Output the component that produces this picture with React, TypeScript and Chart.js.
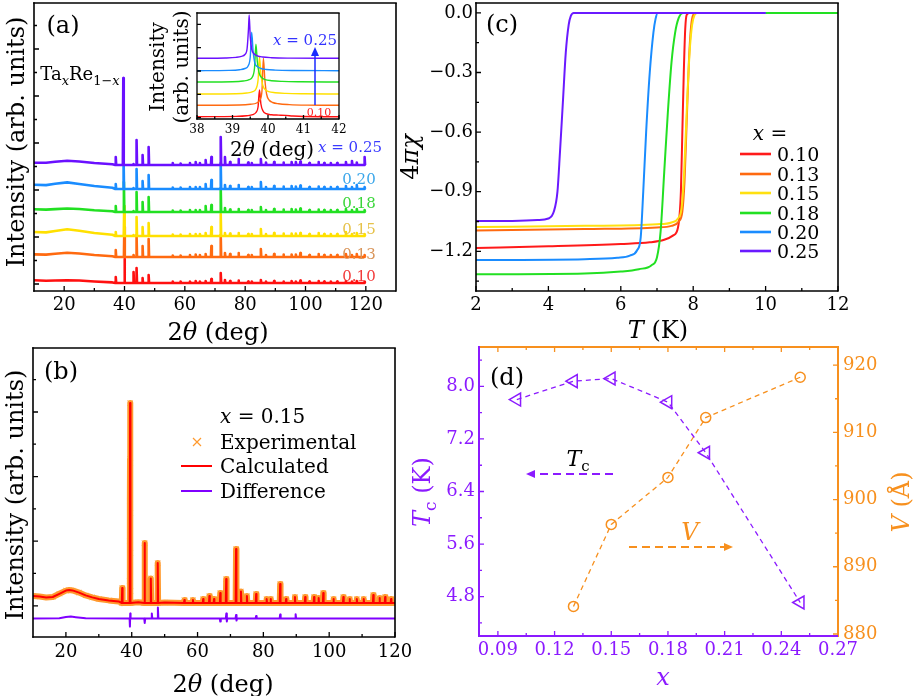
import React, { useEffect, useRef } from "react";
import { Chart, registerables } from "chart.js";

Chart.register(...registerables);

const FONT = "'DejaVu Serif', serif";

// ---------------- Panel (a): stacked XRD patterns ----------------
const compLabels = ["0.10", "0.13", "0.15", "0.18", "0.20", "0.25"];
const traceColors = ["#ff1010", "#ff6a10", "#ffe000", "#22e022", "#1a8cff", "#6a10ff"];
const labelColorsA = ["#f23a3a", "#d9955a", "#e6c24a", "#3ad63a", "#3aa6ea", "#3b3bff"];
const stackOffsets = [8, 34, 55, 79, 102, 126];
const humpAngles = [10, 14, 17, 21, 25, 30, 36, 45, 120];
const hump010 = [2.7, 2.3, 2.5, 2.8, 2.5, 1.5, 0.6, 0, 0];
const hump013 = [2.6, 2.4, 3.2, 4.3, 3.5, 2.0, 0.8, 0, 0];
const hump015 = [4.0, 3.6, 5.0, 6.7, 5.2, 3.0, 1.2, 0, 0];
const hump018 = [2.7, 2.4, 2.9, 3.5, 3.0, 1.8, 0.8, 0, 0];
const hump020 = [4.3, 3.9, 5.2, 6.6, 5.0, 3.0, 1.2, 0, 0];
const hump025 = [2.3, 2.2, 3.2, 4.3, 3.5, 2.0, 0.8, 0, 0];
const mainPeakAngles = [40.0, 39.95, 39.9, 39.8, 39.7, 39.6];
const mainPeakHeights = [24, 30, 30, 30, 30, 87];
const peakAnglesA = [37.1, 43.0, 44.0, 46.0, 48.0, 56.0, 58.6, 61.7, 63.6, 65.0, 66.9, 68.8, 71.9, 73.3, 75.0, 77.8, 81.0, 82.2, 85.2, 86.9, 89.6, 92.7, 95.4, 96.8, 98.3, 101.3, 104.3, 106.2, 108.4, 110.5, 113.4, 115.4, 117.0, 119.6];
const peaks010 = [6, 11, 15, 5, 8, 1.5, 1.5, 1.5, 2, 1.5, 2, 4, 10, 3, 2, 2.5, 1.5, 1.5, 3, 1.5, 2, 1.5, 2, 1.5, 2.5, 1.5, 2, 1.5, 1.5, 1.5, 2, 1.5, 2, 1.5];
const peaks013 = [7, 2, 22, 11, 18, 1.5, 1.5, 2, 2.5, 2, 3, 11, 22, 4, 3, 4, 2, 2, 8, 2, 3, 2.5, 2.5, 2.5, 4, 2, 3, 2, 2, 2, 3, 2, 3, 2];
const peaks015 = [4, 1, 19, 9, 13, 1.5, 1.5, 2, 2, 2, 3, 9, 22, 3, 2.5, 3, 2, 2, 7, 2, 3, 2.5, 2.5, 2.5, 3, 2, 3, 2, 2, 2, 4, 2, 3, 2];
const peaks018 = [6, 1, 20, 10, 15, 1.5, 1.5, 2, 2, 2, 6, 7, 24, 4, 2.5, 3, 2, 2, 5, 2, 3, 2.5, 3, 2.5, 3.5, 2, 2.5, 2, 2, 2, 3, 2, 3, 2];
const peaks020 = [5, 1, 20, 8, 14, 1.5, 1.5, 2, 2, 2, 5, 9, 26, 4, 3, 4, 2, 2, 7, 2, 3, 2.5, 3, 2.5, 3.5, 2, 2.5, 2, 2, 2, 3, 2, 4, 2];
const peaks025 = [8, 1, 25, 10, 18, 2, 1.5, 2, 3, 2, 5, 8, 28, 8, 3, 6, 2.5, 2, 6, 2.5, 3, 2.5, 3, 3, 3.5, 2, 3, 2, 2, 2, 3, 4, 2.5, 8];
const xTicksA = [20, 40, 60, 80, 100, 120];
const xMinorA = [30, 50, 70, 90, 110];
const yMajorA = [7, 54, 101, 148, 195, 242];
const yMinorA = [30.5, 77.5, 124.5, 171.5, 218.5, 265.5];

// ---------------- Inset of (a): main peak ----------------
const insPurpleX = [38, 38.8, 39.1, 39.25, 39.35, 39.41, 39.45, 39.47, 39.5, 39.54, 39.6, 39.7, 39.85, 40.1, 40.6, 42];
const insPurpleY = [60.7, 61.0, 61.6, 62.6, 64.5, 70, 90, 104, 82, 70, 65.5, 63.2, 62, 61.3, 60.9, 60.7];
const insBlueX = [38, 38.9, 39.2, 39.35, 39.44, 39.5, 39.54, 39.58, 39.63, 39.7, 39.8, 39.95, 40.2, 40.7, 42];
const insBlueY = [48.3, 48.6, 49.3, 50.5, 53, 62, 86.7, 68, 56, 52.5, 50.5, 49.5, 48.9, 48.5, 48.3];
const insGreenX = [38, 39.0, 39.3, 39.47, 39.56, 39.62, 39.66, 39.7, 39.75, 39.82, 39.92, 40.1, 40.4, 40.9, 42];
const insGreenY = [37, 37.3, 38, 39.3, 42, 51, 74.7, 57, 46, 41.5, 39.4, 38.3, 37.6, 37.2, 37];
const insYellowX = [38, 39.1, 39.4, 39.57, 39.66, 39.72, 39.76, 39.8, 39.85, 39.92, 40.02, 40.2, 40.5, 41, 42];
const insYellowY = [25, 25.3, 26, 27.3, 30, 39, 61.7, 45, 34, 29.5, 27.4, 26.3, 25.6, 25.2, 25];
const insOrangeX = [38, 39.2, 39.5, 39.68, 39.77, 39.83, 39.87, 39.91, 39.96, 40.03, 40.13, 40.3, 40.6, 41.1, 42];
const insOrangeY = [13.7, 14, 14.7, 16, 19, 28, 60.7, 40, 25, 19, 16.5, 15.2, 14.4, 13.9, 13.7];
const insRedX = [38, 39.1, 39.4, 39.57, 39.66, 39.72, 39.76, 39.8, 39.86, 39.95, 40.1, 40.3, 40.5, 40.7, 41.0, 42];
const insRedY = [2.3, 2.6, 3.2, 4.3, 6.5, 12, 29, 15, 8, 5.3, 4.2, 3.9, 3.6, 3.0, 2.5, 2.3];
const insTicks = [38, 39, 40, 41, 42];
const insMinor = [38.5, 39.5, 40.5, 41.5];
const insYTicks = [1.3, 24.7, 48, 71.3, 94.7];

// ---------------- Panel (b): Rietveld refinement, x = 0.15 ----------------
const bBgAngles = [10, 12, 14, 16, 18, 20, 21, 22, 24, 26, 28, 30, 33, 36, 42, 50, 60, 120];
const bBgCounts = [3.5, 3.2, 2.8, 3.0, 4.6, 6.2, 6.5, 6.3, 5.2, 3.8, 2.8, 2.0, 1.3, 0.8, 0.4, 0.2, 0, 0];
const bPeakAngles = [37.1, 39.5, 43.9, 45.8, 47.9, 56.0, 58.6, 61.7, 63.6, 65.0, 66.9, 68.7, 71.7, 73.2, 75.0, 77.8, 81.0, 82.2, 85.1, 86.9, 89.6, 92.7, 95.4, 96.8, 98.2, 101.3, 104.3, 106.2, 108.4, 110.5, 113.4, 115.3, 117.0, 118.8];
const bPeakCounts = [7.5, 100, 30, 12.3, 20, 1.5, 1.5, 2, 3.5, 2, 5, 12, 27, 5.7, 3.5, 4.5, 2, 2, 9.5, 2, 3, 3, 3, 2.5, 5, 2, 3, 2, 2, 2, 4, 2.5, 3, 2];
const bExpFlankAngles = [39.41, 39.44, 39.46, 39.48, 39.52, 39.54, 39.56, 39.59];
const bExpFlankCounts = [11, 31, 51, 72, 70, 45, 25, 6];
const diffAngles = [10, 18, 20, 21.5, 23, 26, 39.35, 39.45, 39.55, 39.65, 43.8, 43.95, 44.1, 45.95, 46.1, 46.25, 47.8, 47.95, 48.1, 66.75, 66.9, 67.05, 68.6, 68.75, 68.9, 69.05, 71.55, 71.7, 71.85, 72.0, 77.65, 77.8, 77.95, 84.95, 85.1, 85.25, 89.65, 89.8, 89.95, 120];
const diffCounts = [-7.7, -7.6, -7.0, -6.8, -7.1, -7.6, -7.7, -11.8, -5.3, -7.7, -7.7, -10.0, -7.7, -7.7, -5.2, -7.7, -7.7, -2.3, -7.7, -7.7, -9.3, -7.7, -7.7, -5.2, -9.2, -7.7, -7.7, -6.0, -8.8, -7.7, -7.7, -6.5, -7.7, -7.7, -5.8, -7.7, -7.7, -5.6, -7.7, -7.7];
const xTicksB = [20, 40, 60, 80, 100, 120];
const xMinorB = [30, 50, 70, 90, 110];
const yMajorB = [-1.4, 30.9, 63.2, 95.5];
const yMinorB = [14.8, 47.1, 79.4, 111.7];

// ---------------- Panel (c): susceptibility ----------------
const chiColors = ["#ff1a1a", "#ff6a10", "#ffe010", "#22e022", "#1a8cff", "#6a1aff"];
const chiT010 = [2, 4, 6, 6.8, 7.2, 7.45, 7.58, 7.66, 7.7, 7.74, 7.78, 7.82, 7.9, 10.6];
const chi010 = [-1.184, -1.175, -1.163, -1.155, -1.142, -1.12, -1.08, -0.9, -0.6, -0.3, -0.08, -0.01, 0, 0];
const chiT013 = [2, 5, 7, 7.4, 7.6, 7.7, 7.76, 7.82, 7.88, 7.94, 8.0, 8.08, 10.6];
const chi013 = [-1.095, -1.088, -1.08, -1.072, -1.05, -1.0, -0.85, -0.55, -0.25, -0.07, -0.01, 0, 0];
const chiT015 = [2, 5, 7, 7.4, 7.58, 7.68, 7.75, 7.82, 7.9, 7.97, 8.04, 8.12, 12];
const chi015 = [-1.078, -1.072, -1.064, -1.055, -1.035, -0.98, -0.8, -0.5, -0.2, -0.06, -0.01, 0, 0];
const chiT018 = [2, 5, 6, 6.5, 6.85, 7.0, 7.1, 7.2, 7.3, 7.4, 7.5, 7.6, 7.72, 12];
const chi018 = [-1.316, -1.312, -1.302, -1.29, -1.27, -1.23, -1.1, -0.8, -0.5, -0.25, -0.1, -0.025, 0, 0];
const chiT020 = [2, 5, 5.9, 6.25, 6.45, 6.55, 6.62, 6.7, 6.8, 6.9, 6.96, 7.02, 10];
const chi020 = [-1.244, -1.24, -1.233, -1.222, -1.195, -1.13, -0.9, -0.6, -0.3, -0.1, -0.03, 0, 0];
const chiT025 = [2, 3, 3.7, 4.0, 4.15, 4.25, 4.32, 4.4, 4.48, 4.56, 4.62, 4.7, 10];
const chi025 = [-1.048, -1.047, -1.043, -1.035, -1.0, -0.9, -0.7, -0.45, -0.2, -0.06, -0.015, 0, 0];
const xTicksC = [2, 4, 6, 8, 10, 12];
const xMinorC = [3, 5, 7, 9, 11];
const yTicksC = [0, -0.3, -0.6, -0.9, -1.2];
const yMinorC = [-0.15, -0.45, -0.75, -1.05, -1.35];

// ---------------- Panel (d): Tc and V vs x ----------------
const tcComp = [0.10, 0.13, 0.15, 0.18, 0.20, 0.25];
const tcValues = [7.80, 8.08, 8.12, 7.76, 6.99, 4.71];
const vComp = [0.13, 0.15, 0.18, 0.20, 0.25];
const vValues = [884.1, 896.3, 903.3, 912.2, 918.2];
const xTicksD = [0.09, 0.12, 0.15, 0.18, 0.21, 0.24, 0.27];
const xMinorD = [0.105, 0.135, 0.165, 0.195, 0.225, 0.255];
const yTicksD = [4.8, 5.6, 6.4, 7.2, 8.0];
const yMinorD = [4.4, 5.2, 6.0, 6.8, 7.6, 8.4];
const y1TicksD = [880, 890, 900, 910, 920];
const y1MinorD = [885, 895, 905, 915];

const PURPLE = "#8b1aff";
const ORANGE = "#f7901e";

// ---------------- helpers ----------------
type Seg = { t: string; i?: boolean; sub?: boolean };
type TextItem = { segs: Seg[]; x: number; y: number; size: number; color?: string; align?: "left" | "center" | "right"; rot?: number };
type TickSpec = { scale: string; side: "left" | "right" | "top" | "bottom"; values: number[]; len: number; color?: string };
type LineItem = { x1: number; y1: number; x2: number; y2: number; color: string; width: number; dash?: number[]; head?: boolean };
type Deco = {
  off: [number, number];
  frame: { left: string; right: string; top: string; bottom: string; width: number };
  ticks: TickSpec[];
  texts: TextItem[];
  lines?: LineItem[];
  crosses?: { x: number; y: number; r: number; color: string }[];
};

const S = (t: string, i = false, sub = false): Seg => ({ t, i, sub });
const T = (segs: Seg[] | string, x: number, y: number, size: number, extra: Partial<TextItem> = {}): TextItem => ({
  segs: typeof segs === "string" ? [S(segs)] : segs,
  x,
  y,
  size,
  ...extra,
});

function drawRich(ctx: CanvasRenderingContext2D, it: TextItem) {
  const subSize = Math.round(it.size * 0.7);
  const fontOf = (s: Seg) => `${s.i ? "italic " : ""}${s.sub ? subSize : it.size}px ${FONT}`;
  const widths = it.segs.map((s) => {
    ctx.font = fontOf(s);
    return ctx.measureText(s.t).width;
  });
  const total = widths.reduce((a, b) => a + b, 0);
  ctx.save();
  ctx.translate(it.x, it.y);
  if (it.rot) ctx.rotate(it.rot);
  ctx.fillStyle = it.color || "#000";
  ctx.textBaseline = "alphabetic";
  ctx.textAlign = "left";
  let x = it.align === "left" ? 0 : it.align === "right" ? -total : -total / 2;
  const base = it.size * 0.36;
  it.segs.forEach((s, k) => {
    ctx.font = fontOf(s);
    ctx.fillText(s.t, x, base + (s.sub ? it.size * 0.25 : 0));
    x += widths[k];
  });
  ctx.restore();
}

function makeDeco(d: Deco) {
  return {
    id: "deco",
    afterDraw(chart: any) {
      const ctx = chart.ctx as CanvasRenderingContext2D;
      const ca = chart.chartArea;
      const [ox, oy] = d.off;
      ctx.save();
      for (const t of d.ticks) {
        const sc = chart.scales[t.scale];
        ctx.strokeStyle = t.color || "#000";
        ctx.lineWidth = 1.3;
        ctx.beginPath();
        for (const v of t.values) {
          const p = sc.getPixelForValue(v);
          if (t.side === "left") { ctx.moveTo(ca.left, p); ctx.lineTo(ca.left + t.len, p); }
          if (t.side === "right") { ctx.moveTo(ca.right, p); ctx.lineTo(ca.right - t.len, p); }
          if (t.side === "bottom") { ctx.moveTo(p, ca.bottom); ctx.lineTo(p, ca.bottom - t.len); }
          if (t.side === "top") { ctx.moveTo(p, ca.top); ctx.lineTo(p, ca.top + t.len); }
        }
        ctx.stroke();
      }
      const w = d.frame.width;
      ctx.lineWidth = w;
      const seg = (c: string, x1: number, y1: number, x2: number, y2: number) => {
        ctx.strokeStyle = c;
        ctx.beginPath();
        ctx.moveTo(x1, y1);
        ctx.lineTo(x2, y2);
        ctx.stroke();
      };
      seg(d.frame.top, ca.left - w / 2, ca.top, ca.right + w / 2, ca.top);
      seg(d.frame.right, ca.right, ca.top, ca.right, ca.bottom + w / 2);
      seg(d.frame.left, ca.left, ca.top - w / 2, ca.left, ca.bottom + w / 2);
      seg(d.frame.bottom, ca.left - w / 2, ca.bottom, ca.right, ca.bottom);
      for (const l of d.lines || []) {
        const x1 = l.x1 - ox, y1 = l.y1 - oy, x2 = l.x2 - ox, y2 = l.y2 - oy;
        ctx.strokeStyle = l.color;
        ctx.fillStyle = l.color;
        ctx.lineWidth = l.width;
        ctx.setLineDash(l.dash || []);
        const ang = Math.atan2(y2 - y1, x2 - x1);
        const hl = l.head ? 9 : 0;
        ctx.beginPath();
        ctx.moveTo(x1, y1);
        ctx.lineTo(x2 - Math.cos(ang) * hl * 0.8, y2 - Math.sin(ang) * hl * 0.8);
        ctx.stroke();
        ctx.setLineDash([]);
        if (l.head) {
          ctx.beginPath();
          ctx.moveTo(x2, y2);
          ctx.lineTo(x2 - Math.cos(ang) * hl + Math.sin(ang) * 4, y2 - Math.sin(ang) * hl - Math.cos(ang) * 4);
          ctx.lineTo(x2 - Math.cos(ang) * hl - Math.sin(ang) * 4, y2 - Math.sin(ang) * hl + Math.cos(ang) * 4);
          ctx.closePath();
          ctx.fill();
        }
      }
      for (const c of d.crosses || []) {
        ctx.strokeStyle = c.color;
        ctx.lineWidth = 1.2;
        ctx.beginPath();
        ctx.moveTo(c.x - ox - c.r, c.y - oy - c.r);
        ctx.lineTo(c.x - ox + c.r, c.y - oy + c.r);
        ctx.moveTo(c.x - ox - c.r, c.y - oy + c.r);
        ctx.lineTo(c.x - ox + c.r, c.y - oy - c.r);
        ctx.stroke();
      }
      ctx.restore();
      for (const it of d.texts) drawRich(ctx, { ...it, x: it.x - ox, y: it.y - oy });
    },
  };
}

function axis(o: {
  pos: "left" | "right" | "top" | "bottom";
  min: number;
  max: number;
  fit: number;
  labels?: number[];
  fmt?: (v: number) => string;
  size?: number;
  pad?: number;
  color?: string;
}) {
  const horizontal = o.pos === "top" || o.pos === "bottom";
  return {
    type: "linear",
    position: o.pos,
    min: o.min,
    max: o.max,
    grid: { display: false, drawTicks: false },
    border: { display: false },
    ticks: {
      display: !!o.labels,
      autoSkip: false,
      maxRotation: 0,
      minRotation: 0,
      padding: o.pad ?? 3,
      color: o.color || "#000",
      font: { family: FONT, size: o.size || 18 },
      callback: (v: any) => (o.fmt ? o.fmt(Number(v)) : String(v)),
    },
    afterBuildTicks: (s: any) => {
      s.ticks = (o.labels || []).map((v) => ({ value: v }));
    },
    afterFit: (s: any) => {
      if (horizontal) s.height = o.fit;
      else s.width = o.fit;
      s.paddingLeft = 0;
      s.paddingRight = 0;
      s.paddingTop = 0;
      s.paddingBottom = 0;
    },
  };
}

const zip = (xs: number[], ys: number[]) => xs.map((x, k) => ({ x, y: ys[k] }));

function peakProfile(bgX: number[], bgY: number[], pkX: number[], pkY: number[], off: number, hw: number) {
  const pts = bgX.map((x, k) => ({ x, y: off + bgY[k] }));
  pkX.forEach((a, k) => {
    pts.push({ x: a - hw, y: off }, { x: a, y: off + pkY[k] }, { x: a + hw, y: off });
  });
  return pts.sort((p, q) => p.x - q.x);
}

const baseOptions = (padding: any) => ({
  animation: false,
  responsive: false,
  devicePixelRatio: 1,
  events: [],
  layout: { autoPadding: false, padding },
  plugins: { legend: { display: false }, tooltip: { enabled: false }, title: { display: false } },
});

// ---------------- chart configs ----------------
function configA() {
  const humps = [hump010, hump013, hump015, hump018, hump020, hump025];
  const peaks = [peaks010, peaks013, peaks015, peaks018, peaks020, peaks025];
  const datasets = compLabels.map((c, i) => ({
    label: c,
    data: peakProfile(
      humpAngles,
      humps[i],
      [mainPeakAngles[i], ...peakAnglesA],
      [mainPeakHeights[i], ...peaks[i]],
      stackOffsets[i],
      0.15
    ),
    borderColor: traceColors[i],
    borderWidth: 2.6,
    borderJoinStyle: "round",
    pointRadius: 0,
    tension: 0,
    order: 6 - i,
  }));
  const labelYs = [276, 254, 229, 203, 179];
  const texts: TextItem[] = [
    T("Intensity (arb. units)", 15, 142, 24, { rot: -Math.PI / 2 }),
    T([S("2"), S("θ", true), S(" (deg)")], 218, 331, 24),
    T("(a)", 63, 24, 24),
    T([S("Ta"), S("x", true, true), S("Re"), S("1−", false, true), S("x", true, true)], 80, 74, 18),
    T([S("x", true), S(" = 0.25")], 350, 147, 15, { color: labelColorsA[5] }),
    ...labelYs.map((y, i) => T(compLabels[i], 359, y, 15, { color: labelColorsA[i] })),
  ];
  return {
    type: "line",
    data: { datasets },
    options: {
      ...baseOptions({ left: 0, top: 3, right: 44, bottom: 31 }),
      scales: {
        x: axis({ pos: "bottom", min: 10, max: 130, fit: 28, labels: xTicksA, pad: 3.2 }),
        y: axis({ pos: "left", min: 0, max: 288, fit: 34 }),
      },
    },
    plugins: [
      makeDeco({
        off: [0, 0],
        frame: { left: "#000", right: "#000", top: "#000", bottom: "#000", width: 1.6 },
        ticks: [
          { scale: "x", side: "bottom", values: xTicksA, len: 5 },
          { scale: "x", side: "bottom", values: xMinorA, len: 3 },
          { scale: "y", side: "left", values: yMajorA, len: 5 },
          { scale: "y", side: "left", values: yMinorA, len: 3 },
        ],
        texts,
      }),
    ],
  };
}

function configInset() {
  const xs = [insRedX, insOrangeX, insYellowX, insGreenX, insBlueX, insPurpleX];
  const ys = [insRedY, insOrangeY, insYellowY, insGreenY, insBlueY, insPurpleY];
  const datasets = compLabels.map((c, i) => ({
    label: c,
    data: zip(xs[i], ys[i]),
    borderColor: traceColors[i],
    borderWidth: 1.4,
    borderJoinStyle: "round",
    pointRadius: 0,
    cubicInterpolationMode: "monotone",
    order: 6 - i,
  }));
  return {
    type: "line",
    data: { datasets },
    options: {
      ...baseOptions({ left: 0, top: 13, right: 21, bottom: 26 }),
      scales: {
        x: axis({ pos: "bottom", min: 38, max: 42, fit: 20, labels: insTicks, size: 12, pad: 3.8 }),
        y: axis({ pos: "left", min: 0, max: 106, fit: 57 }),
      },
    },
    plugins: [
      makeDeco({
        off: [140, 0],
        frame: { left: "#000", right: "#000", top: "#000", bottom: "#000", width: 1.3 },
        ticks: [
          { scale: "x", side: "bottom", values: insTicks, len: 4 },
          { scale: "x", side: "bottom", values: insMinor, len: 2.5 },
          { scale: "y", side: "left", values: insYTicks, len: 4 },
        ],
        lines: [{ x1: 315, y1: 105, x2: 315, y2: 47, color: "#1a2aff", width: 1.5, head: true }],
        texts: [
          T("Intensity", 157, 67, 20, { rot: -Math.PI / 2 }),
          T("(arb. units)", 181, 67, 20, { rot: -Math.PI / 2 }),
          T([S("2"), S("θ", true), S(" (deg)")], 272, 149, 20),
          T([S("x", true), S(" = 0.25")], 305, 40, 15, { color: "#3333ff" }),
          T("0.10", 319, 112, 11, { color: "#ff2020" }),
        ],
      }),
    ],
  };
}

function configB() {
  const calc = peakProfile(bBgAngles, bBgCounts, bPeakAngles, bPeakCounts, 0, 0.12);
  const exp = [...calc, ...zip(bExpFlankAngles, bExpFlankCounts)].sort((p, q) => p.x - q.x);
  const datasets = [
    { label: "Calculated", data: calc, borderColor: "#ff0000", borderWidth: 2, borderJoinStyle: "round", pointRadius: 0, tension: 0, order: 1 },
    {
      label: "Experimental",
      data: exp,
      borderColor: "#ff9a2e",
      borderWidth: 6,
      borderJoinStyle: "round",
      pointStyle: "crossRot",
      pointRadius: 3.5,
      pointBorderWidth: 1,
      pointBorderColor: "#ff9a2e",
      tension: 0,
      order: 2,
    },
    { label: "Difference", data: zip(diffAngles, diffCounts), borderColor: "#8000ff", borderWidth: 2, borderJoinStyle: "round", pointRadius: 0, tension: 0, order: 3 },
  ];
  return {
    type: "line",
    data: { datasets },
    options: {
      ...baseOptions({ left: 0, top: 8, right: 45, bottom: 31 }),
      scales: {
        x: axis({ pos: "bottom", min: 10, max: 120, fit: 28, labels: xTicksB, pad: 4.2 }),
        y: axis({ pos: "left", min: -17, max: 127.5, fit: 33 }),
      },
    },
    plugins: [
      makeDeco({
        off: [0, 340],
        frame: { left: "#000", right: "#000", top: "#000", bottom: "#000", width: 1.6 },
        ticks: [
          { scale: "x", side: "bottom", values: xTicksB, len: 5 },
          { scale: "x", side: "bottom", values: xMinorB, len: 3 },
          { scale: "y", side: "left", values: yMajorB, len: 5 },
          { scale: "y", side: "left", values: yMinorB, len: 3 },
        ],
        lines: [
          { x1: 181, y1: 466, x2: 212, y2: 466, color: "#ff0000", width: 2 },
          { x1: 181, y1: 491, x2: 212, y2: 491, color: "#8000ff", width: 2 },
        ],
        crosses: [{ x: 197, y: 442, r: 4, color: "#ff9a2e" }],
        texts: [
          T("Intensity (arb. units)", 14, 495, 24, { rot: -Math.PI / 2 }),
          T([S("2"), S("θ", true), S(" (deg)")], 223, 683, 24),
          T("(b)", 61, 370, 24),
          T([S("x", true), S(" = 0.15")], 220, 416, 20, { align: "left" }),
          T("Experimental", 220, 442, 20, { align: "left" }),
          T("Calculated", 220, 466, 20, { align: "left" }),
          T("Difference", 220, 491, 20, { align: "left" }),
        ],
      }),
    ],
  };
}

function configC() {
  const Ts = [chiT010, chiT013, chiT015, chiT018, chiT020, chiT025];
  const Cs = [chi010, chi013, chi015, chi018, chi020, chi025];
  const datasets = compLabels.map((c, i) => ({
    label: c,
    data: zip(Ts[i], Cs[i]),
    borderColor: chiColors[i],
    borderWidth: 2,
    pointRadius: 0,
    cubicInterpolationMode: "monotone",
    order: 6 - i,
  }));
  const legYs = [154, 174, 193, 213, 232, 251];
  return {
    type: "line",
    data: { datasets },
    options: {
      ...baseOptions({ left: 0, top: 3, right: 75, bottom: 26 }),
      scales: {
        x: axis({ pos: "bottom", min: 2, max: 12, fit: 28, labels: xTicksC, pad: 3.2 }),
        y: axis({
          pos: "left",
          min: -1.4,
          max: 0.05,
          fit: 80,
          labels: yTicksC,
          pad: 3,
          fmt: (v) => (Math.abs(v) < 1e-9 ? "0.0" : "\u2212" + Math.abs(v).toFixed(1)),
        }),
      },
    },
    plugins: [
      makeDeco({
        off: [396, 0],
        frame: { left: "#000", right: "#000", top: "#000", bottom: "#000", width: 1.6 },
        ticks: [
          { scale: "x", side: "bottom", values: xTicksC, len: 5 },
          { scale: "x", side: "bottom", values: xMinorC, len: 3 },
          { scale: "y", side: "left", values: yTicksC, len: 5 },
          { scale: "y", side: "left", values: yMinorC, len: 3 },
        ],
        lines: legYs.map((y, i) => ({ x1: 740, y1: y, x2: 771, y2: y, color: chiColors[i], width: 2.6 })),
        texts: [
          T("(c)", 502, 23, 24),
          T([S("4"), S("πχ", true)], 409, 157, 24, { rot: -Math.PI / 2 }),
          T([S("T", true), S(" (K)")], 658, 329, 24),
          T([S("x", true), S(" =")], 770, 133, 20),
          ...legYs.map((y, i) => T(compLabels[i], 777, y, 19, { align: "left" })),
        ],
      }),
    ],
  };
}

function configD() {
  const datasets = [
    {
      label: "Tc",
      data: zip(tcComp, tcValues),
      yAxisID: "y",
      borderColor: PURPLE,
      borderWidth: 1.3,
      borderDash: [5, 4],
      pointStyle: "triangle",
      pointRotation: -90,
      pointRadius: 7.5,
      pointBorderWidth: 1.5,
      pointBorderColor: PURPLE,
      pointBackgroundColor: "rgba(0,0,0,0)",
      tension: 0,
    },
    {
      label: "V",
      data: zip(vComp, vValues),
      yAxisID: "y1",
      borderColor: ORANGE,
      borderWidth: 1.3,
      borderDash: [5, 4],
      pointStyle: "circle",
      pointRadius: 5,
      pointBorderWidth: 1.5,
      pointBorderColor: ORANGE,
      pointBackgroundColor: "rgba(0,0,0,0)",
      tension: 0,
    },
  ];
  return {
    type: "line",
    data: { datasets },
    options: {
      ...baseOptions({ left: 0, top: 7, right: 25, bottom: 32 }),
      scales: {
        x: axis({ pos: "bottom", min: 0.08, max: 0.27, fit: 28, labels: xTicksD, pad: 3.2, color: PURPLE, fmt: (v) => v.toFixed(2) }),
        y: axis({ pos: "left", min: 4.2, max: 8.6, fit: 83, labels: yTicksD, pad: 4, color: PURPLE, fmt: (v) => v.toFixed(1) }),
        y1: axis({ pos: "right", min: 879.7, max: 922.7, fit: 50, labels: y1TicksD, pad: 5, color: ORANGE, fmt: (v) => v.toFixed(0) }),
      },
    },
    plugins: [
      makeDeco({
        off: [396, 340],
        frame: { left: PURPLE, right: ORANGE, top: ORANGE, bottom: PURPLE, width: 2 },
        ticks: [
          { scale: "x", side: "bottom", values: xTicksD, len: 5, color: PURPLE },
          { scale: "x", side: "bottom", values: xMinorD, len: 3, color: PURPLE },
          { scale: "x", side: "top", values: xTicksD, len: 5, color: ORANGE },
          { scale: "x", side: "top", values: xMinorD, len: 3, color: ORANGE },
          { scale: "y", side: "left", values: yTicksD, len: 5, color: PURPLE },
          { scale: "y", side: "left", values: yMinorD, len: 3, color: PURPLE },
          { scale: "y1", side: "right", values: y1TicksD, len: 5, color: ORANGE },
          { scale: "y1", side: "right", values: y1MinorD, len: 3, color: ORANGE },
        ],
        lines: [
          { x1: 613, y1: 474, x2: 526, y2: 474, color: PURPLE, width: 2, dash: [8, 5], head: true },
          { x1: 629, y1: 547, x2: 733, y2: 547, color: ORANGE, width: 2, dash: [8, 5], head: true },
        ],
        texts: [
          T("(d)", 507, 376, 24),
          T([S("T", true), S("c", false, true), S(" (K)")], 421, 492, 24, { rot: -Math.PI / 2, color: PURPLE }),
          T([S("V", true), S(" (Å)")], 900, 502, 24, { rot: -Math.PI / 2, color: ORANGE }),
          T([S("x", true)], 663, 676, 24, { color: PURPLE }),
          T([S("T", true), S("c", false, true)], 578, 458, 22),
          T([S("V", true)], 690, 531, 24, { color: ORANGE }),
        ],
      }),
    ],
  };
}

function ChartCanvas(props: { left: number; top: number; width: number; height: number; make: () => any }) {
  const ref = useRef<HTMLCanvasElement>(null);
  useEffect(() => {
    const chart = new Chart(ref.current as HTMLCanvasElement, props.make());
    return () => chart.destroy();
  }, []);
  return (
    <canvas
      ref={ref}
      width={props.width}
      height={props.height}
      style={{ position: "absolute", left: props.left, top: props.top, width: props.width, height: props.height }}
    />
  );
}

export default function App() {
  return (
    <div style={{ position: "absolute", left: 0, top: 0, width: 913, height: 696, background: "#fff", overflow: "hidden" }}>
      <ChartCanvas left={0} top={0} width={440} height={350} make={configA} />
      <ChartCanvas left={140} top={0} width={220} height={165} make={configInset} />
      <ChartCanvas left={0} top={340} width={440} height={356} make={configB} />
      <ChartCanvas left={396} top={0} width={517} height={345} make={configC} />
      <ChartCanvas left={396} top={340} width={517} height={356} make={configD} />
    </div>
  );
}
